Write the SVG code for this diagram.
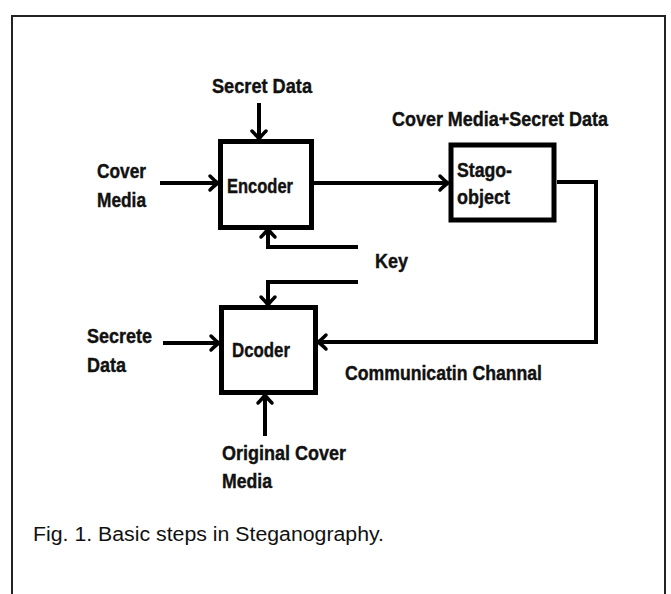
<svg xmlns="http://www.w3.org/2000/svg" width="671" height="594" viewBox="0 0 671 594">
<style>
.lbl{font-family:"Liberation Sans",Arial,sans-serif;font-weight:bold;font-size:20px;fill:#111;stroke:#111;stroke-width:0.4}
.cap{font-family:"Liberation Sans",Arial,sans-serif;font-size:20px;fill:#111}
.box{fill:#fff;stroke:#000;stroke-width:5}
.con{fill:none;stroke:#000;stroke-width:4;marker-end:url(#ah)}
.frame{fill:none;stroke:#222;stroke-width:2}
</style>
<defs>
<marker id="ah" markerUnits="userSpaceOnUse" markerWidth="20" markerHeight="20" refX="0" refY="0" orient="auto" overflow="visible">
<path d="M-8,-7 Q-3,-2 0,0 Q-3,2 -8,7" fill="none" stroke="#000" stroke-width="3.5" stroke-linecap="round"/>
</marker>
</defs>
<rect width="671" height="594" fill="#fff"/>
<path class="frame" d="M12,594 V16 H665 V594"/>
<g id="connectors">
<path class="con" d="M259,103 V139"/>
<path class="con" d="M160,183 H218"/>
<path class="con" d="M313,183 H448"/>
<path class="con" d="M557,182 H596 V342 H318"/>
<path class="con" d="M358,247 H268 V229"/>
<path class="con" d="M358,282 H268 V305"/>
<path class="con" d="M163,343 H219"/>
<path class="con" d="M265,436 V395"/>
</g>
<g id="encoder">
<rect class="box" x="220.5" y="141.5" width="91" height="86"/>
<text class="lbl" x="227" y="193" textLength="66" lengthAdjust="spacingAndGlyphs">Encoder</text>
</g>
<g id="stago">
<rect class="box" x="451" y="145" width="103" height="75"/>
<text class="lbl" x="457" y="177" textLength="55" lengthAdjust="spacingAndGlyphs">Stago-</text>
<text class="lbl" x="457" y="204" textLength="53" lengthAdjust="spacingAndGlyphs">object</text>
</g>
<g id="decoder">
<rect class="box" x="221.5" y="307.5" width="94" height="85"/>
<text class="lbl" x="232" y="357" textLength="58" lengthAdjust="spacingAndGlyphs">Dcoder</text>
</g>
<g id="labels">
<text class="lbl" x="212" y="93" textLength="100" lengthAdjust="spacingAndGlyphs">Secret Data</text>
<text class="lbl" x="97" y="178" textLength="49" lengthAdjust="spacingAndGlyphs">Cover</text>
<text class="lbl" x="97" y="207" textLength="49" lengthAdjust="spacingAndGlyphs">Media</text>
<text class="lbl" x="392" y="126" textLength="216" lengthAdjust="spacingAndGlyphs">Cover Media+Secret Data</text>
<text class="lbl" x="375" y="268" textLength="33" lengthAdjust="spacingAndGlyphs">Key</text>
<text class="lbl" x="87" y="343" textLength="65" lengthAdjust="spacingAndGlyphs">Secrete</text>
<text class="lbl" x="87" y="372" textLength="39" lengthAdjust="spacingAndGlyphs">Data</text>
<text class="lbl" x="345" y="380" textLength="197" lengthAdjust="spacingAndGlyphs">Communicatin Channal</text>
<text class="lbl" x="222" y="460" textLength="124" lengthAdjust="spacingAndGlyphs">Original Cover</text>
<text class="lbl" x="222" y="488" textLength="50" lengthAdjust="spacingAndGlyphs">Media</text>
</g>
<text class="cap" x="33" y="541" textLength="351" lengthAdjust="spacingAndGlyphs">Fig. 1. Basic steps in Steganography.</text>
</svg>
